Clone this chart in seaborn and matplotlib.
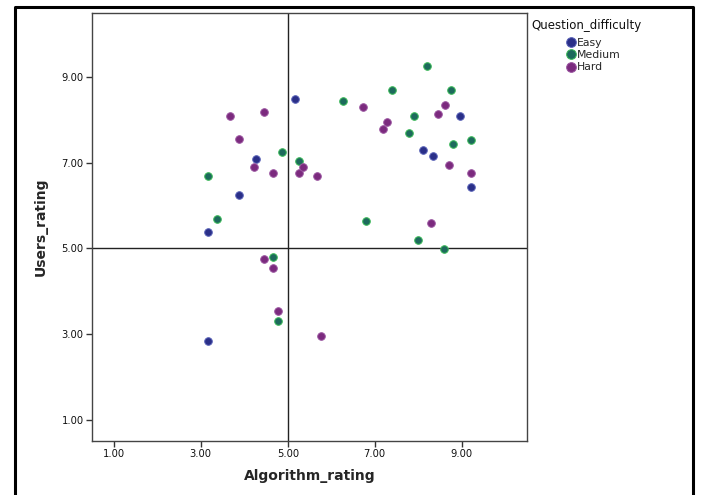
import matplotlib
matplotlib.use("Agg")
import matplotlib.pyplot as plt
from matplotlib.lines import Line2D
import seaborn as sns
import pandas as pd

# ---- data ----
easy_x = [3.17, 3.17, 3.87, 4.26, 5.17, 8.10, 8.35, 8.96, 9.21]
easy_y = [5.39, 2.84, 6.25, 7.10, 8.50, 7.30, 7.15, 8.09, 6.44]

medium_x = [3.17, 3.37, 4.66, 4.77, 4.86, 5.26, 6.28, 7.39, 8.20, 8.76, 7.90, 7.79, 9.21, 8.80, 6.79, 7.99, 8.60]
medium_y = [6.70, 5.69, 4.80, 3.30, 7.26, 7.05, 8.45, 8.70, 9.25, 8.70, 8.09, 7.70, 7.54, 7.45, 5.65, 5.20, 4.99]

hard_x = [3.67, 4.46, 3.87, 4.22, 4.66, 5.26, 5.36, 5.67, 4.46, 4.66, 4.77, 5.77, 6.73, 8.61, 8.45, 7.29, 7.19, 8.70, 9.21, 8.30]
hard_y = [8.09, 8.19, 7.55, 6.90, 6.75, 6.75, 6.90, 6.70, 4.75, 4.54, 3.54, 2.95, 8.30, 8.35, 8.15, 7.95, 7.80, 6.95, 6.75, 5.59]

categories = ["Easy", "Medium", "Hard"]
tick_values = [1, 3, 5, 7, 9]
tick_labels = ["1.00", "3.00", "5.00", "7.00", "9.00"]

df = pd.concat([
    pd.DataFrame({"Algorithm_rating": easy_x, "Users_rating": easy_y, "Question_difficulty": "Easy"}),
    pd.DataFrame({"Algorithm_rating": medium_x, "Users_rating": medium_y, "Question_difficulty": "Medium"}),
    pd.DataFrame({"Algorithm_rating": hard_x, "Users_rating": hard_y, "Question_difficulty": "Hard"}),
], ignore_index=True)

fill = {"Easy": "#2a2f88", "Medium": "#1d6a5c", "Hard": "#7b2a7e"}
edge = {"Easy": "#5a63b8", "Medium": "#3cbb58", "Hard": "#9a55a0"}

sns.set_style("white")
plt.rcParams['font.family'] = ['DejaVu Sans']

fig = plt.figure(figsize=(7.01, 4.95), dpi=100)
ax = fig.add_axes([92/701, 1-441/495, (527-92)/701, (441-13)/495])

for cat in categories:
    sub = df[df["Question_difficulty"] == cat]
    sns.scatterplot(data=sub, x="Algorithm_rating", y="Users_rating", ax=ax,
                    color=fill[cat], edgecolor=edge[cat], linewidth=0.7,
                    s=30, legend=False, zorder=3)

ax.axvline(5, color="#222222", lw=1.0, zorder=2)
ax.axhline(5, color="#222222", lw=1.0, zorder=2)

ax.set_xlim(0.5, 10.5)
ax.set_ylim(0.5, 10.5)
ax.set_xticks(tick_values)
ax.set_xticklabels(tick_labels)
ax.set_yticks(tick_values)
ax.set_yticklabels(tick_labels)
ax.tick_params(axis="both", direction="out", length=4, width=1, color="#333333",
               labelsize=7.2, labelcolor="#111111", pad=2,
               bottom=True, left=True, top=False, right=False)
for sp in ax.spines.values():
    sp.set_color("#444444")
    sp.set_linewidth(1.0)

ax.set_xlabel("Algorithm_rating", fontsize=10, fontweight="bold", labelpad=7)
ax.set_ylabel("Users_rating", fontsize=10, fontweight="bold", labelpad=10)

# legend
handles = [Line2D([0], [0], marker="o", linestyle="", markersize=7,
                  markerfacecolor=fill[c], markeredgecolor=edge[c], markeredgewidth=0.7)
           for c in categories]
fig.text(531/701, 1-25.5/495, "Question_difficulty", fontsize=8.5, va="center", ha="left",
         color="#111111")
fig.legend(handles, categories, loc="upper left", bbox_to_anchor=(566/701, 1-38/495),
           frameon=False, fontsize=7.8, handletextpad=0.05, labelspacing=0.2,
           handlelength=1.0, borderpad=0, borderaxespad=0)

# outer border (left, top, right)
fig.add_artist(Line2D([15/701, 15/701, 693/701, 693/701],
                      [-0.01, 1-7/495, 1-7/495, -0.01],
                      transform=fig.transFigure, color="black", lw=2.2, clip_on=False))

fig.savefig("out.png", dpi=100)
